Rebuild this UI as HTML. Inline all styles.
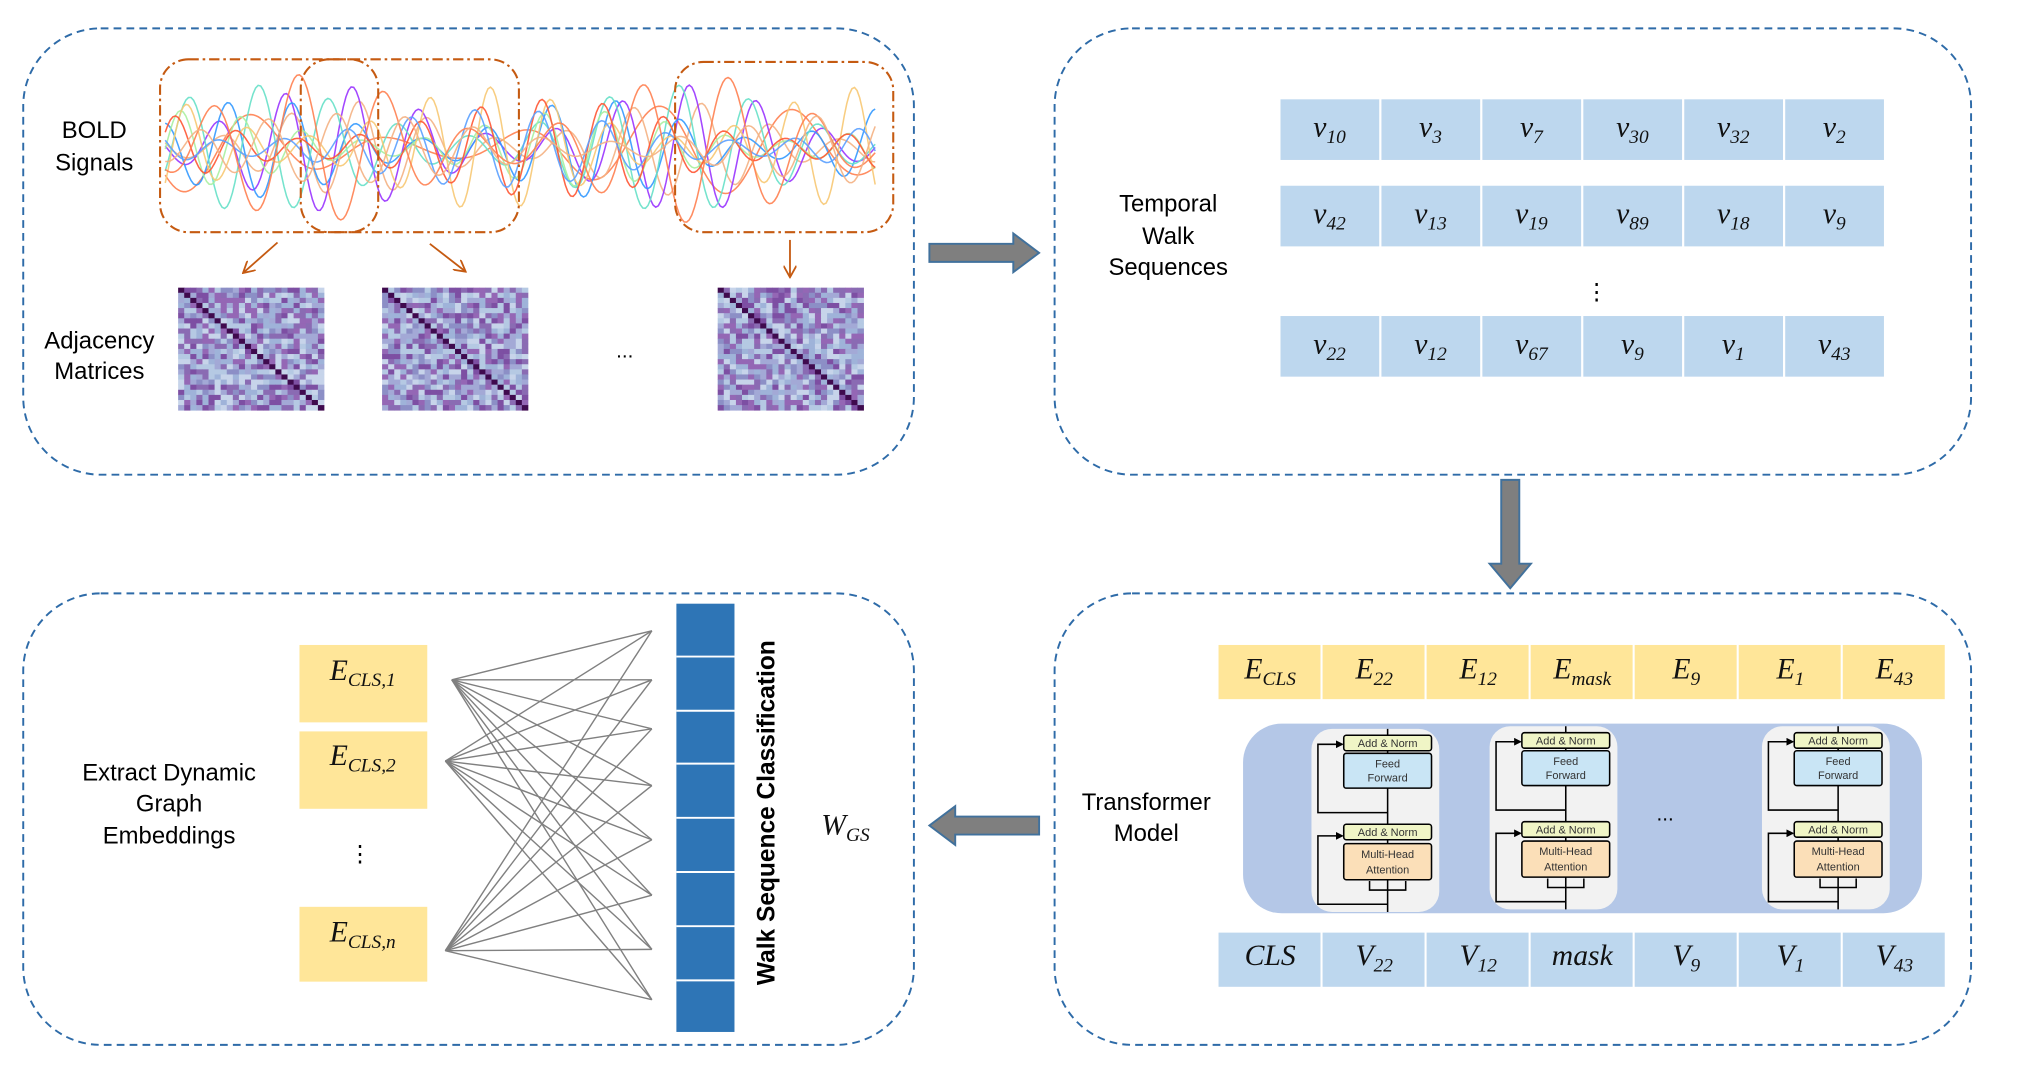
<!DOCTYPE html>
<html><head><meta charset="utf-8">
<style>
html,body{margin:0;padding:0;background:#fff;width:2024px;height:1090px;overflow:hidden}
svg{display:block}
.lab{font-family:"Liberation Sans",sans-serif;font-size:18.5px;fill:#000;text-anchor:middle}
.m{font-family:"Liberation Serif",serif;font-style:italic;font-size:23px;fill:#111;text-anchor:middle}
.sub{font-size:15px}
.tb{font-family:"Liberation Sans",sans-serif;font-size:8.5px;fill:#333;text-anchor:middle}
</style></head><body>
<svg id="s" width="2024" height="1090" viewBox="0 0 1568 845" preserveAspectRatio="none" xmlns="http://www.w3.org/2000/svg">
<defs>
<marker id="oa" markerWidth="10" markerHeight="10" refX="8" refY="5" orient="auto" markerUnits="userSpaceOnUse"><path d="M0,0 L9,5 L0,10" fill="none" stroke="#c55a11" stroke-width="1.4"/></marker>
<marker id="ka" markerWidth="6" markerHeight="6" refX="5" refY="3" orient="auto" markerUnits="userSpaceOnUse"><path d="M0,0 L6,3 L0,6z" fill="#000"/></marker>
</defs>
<g fill="none" stroke="#2e6ba8" stroke-width="1.5" stroke-dasharray="6,4">
<rect x="18" y="22" width="690" height="346" rx="60"/>
<rect x="817" y="22" width="710" height="346" rx="60"/>
<rect x="18" y="460" width="690" height="350" rx="60"/>
<rect x="817" y="460" width="710" height="350" rx="60"/>
</g>
<g fill="#7f7f7f" stroke="#41719c" stroke-width="1.5">
<path d="M720,189 L785,189 L785,181 L805,196 L785,211 L785,203 L720,203z"/>
<path d="M1163,372 L1177,372 L1177,437 L1186,437 L1170,456 L1154,437 L1163,437z"/>
<path d="M805,633 L740,633 L740,625 L720,640 L740,655 L740,647 L805,647z"/>
</g>
<text class="lab" x="73" y="107">BOLD</text><text class="lab" x="73" y="132">Signals</text>
<text class="lab" x="77" y="270">Adjacency</text><text class="lab" x="77" y="294">Matrices</text>
<g id="sig"></g>
<g fill="none" stroke="#c55a11" stroke-width="1.6" stroke-dasharray="8,3,2,3">
<rect x="124" y="46" width="169" height="134" rx="22"/>
<rect x="233" y="46" width="169" height="134" rx="22"/>
<rect x="523" y="48" width="169" height="132" rx="22"/>
</g>
<g stroke="#c55a11" stroke-width="1.4" marker-end="url(#oa)">
<line x1="215" y1="188" x2="189" y2="211"/><line x1="333" y1="189" x2="360" y2="210"/><line x1="612" y1="186" x2="612" y2="214"/>
</g>
<g id="mats"></g>
<text x="484" y="277" style="font-family:'Liberation Sans';font-size:16px;text-anchor:middle">...</text>
<text class="lab" x="905" y="164">Temporal</text><text class="lab" x="905" y="189">Walk</text><text class="lab" x="905" y="213">Sequences</text>
<g id="tr"></g>
<text x="1237" y="232" style="font-family:'Liberation Serif';font-size:18px;text-anchor:middle">⋮</text>
<text class="lab" x="888" y="628">Transformer</text><text class="lab" x="888" y="652">Model</text>
<g id="br"></g>
<rect x="963" y="561" width="526" height="147" rx="30" fill="#b4c7e7"/>
<g id="blocks"></g>
<text x="1290" y="636" style="font-family:'Liberation Sans';font-size:16px;text-anchor:middle">...</text>
<text class="lab" x="131" y="605">Extract Dynamic</text><text class="lab" x="131" y="629">Graph</text><text class="lab" x="131" y="654">Embeddings</text>
<g fill="#ffe699"><rect x="232" y="500" width="99" height="60"/><rect x="232" y="567" width="99" height="60"/><rect x="232" y="703" width="99" height="58"/></g>
<text class="m" x="281" y="527">E<tspan class="sub" dy="5">CLS,1</tspan></text>
<text class="m" x="281" y="593">E<tspan class="sub" dy="5">CLS,2</tspan></text>
<text class="m" x="281" y="730">E<tspan class="sub" dy="5">CLS,n</tspan></text>
<text x="279" y="668" style="font-family:'Liberation Serif';font-size:18px;text-anchor:middle">⋮</text>
<g id="net" stroke="#808080" stroke-width="1.1"></g>
<rect x="524" y="468" width="45" height="332" fill="#2e75b6"/>
<g stroke="#fff" stroke-width="1.5"><line x1="524" y1="509" x2="569" y2="509"/><line x1="524" y1="551" x2="569" y2="551"/><line x1="524" y1="592" x2="569" y2="592"/><line x1="524" y1="634" x2="569" y2="634"/><line x1="524" y1="676" x2="569" y2="676"/><line x1="524" y1="718" x2="569" y2="718"/><line x1="524" y1="760" x2="569" y2="760"/></g>
<text transform="translate(600,630) rotate(-90)" style="font-family:'Liberation Sans';font-weight:bold;font-size:19px;text-anchor:middle">Walk Sequence Classification</text>
<text class="m" x="655" y="647">W<tspan class="sub" dy="5">GS</tspan></text>
</svg>
<script>
var NS="http://www.w3.org/2000/svg";
function el(p,t,a,txt){var e=document.createElementNS(NS,t);for(var k in a)e.setAttribute(k,a[k]);if(txt!=null)e.innerHTML=txt;p.appendChild(e);return e;}
var seed=7;function rnd(){seed=(seed*16807)%2147483647;return seed/2147483647;}
var sg=document.getElementById('sig');
var cols=["#ff7f50","#f4b183","#9933ff","#3399ff","#66e0c8","#a9f0a0","#f7c873","#ff5533","#5aa0ff"];
for(var i=0;i<11;i++){var d="";var f=0.06+rnd()*0.08,ph=rnd()*6,a=25+rnd()*35,f2=0.01+rnd()*0.02;
for(var x=128;x<=678;x+=2){var y=115+a*Math.sin(f*x+ph)*(0.6+0.4*Math.sin(f2*x+i));d+=(x==128?"M":"L")+x+","+y.toFixed(1);}
el(sg,'path',{d:d,fill:'none',stroke:cols[i%cols.length],'stroke-width':1.2,opacity:0.9});}
var mg=document.getElementById('mats');var pal=["#b5c9e3","#9fb3d9","#8c8fc6","#8a6bb3","#7d4fa3","#a3a9d6","#c7d4ea","#9467b5"];
[138,296,556].forEach(function(mx){var n=24,w=113/n,h=95/n;
for(var r=0;r<n;r++)for(var c=0;c<n;c++){var col=r==c?"#3f0a4e":pal[Math.floor(rnd()*pal.length)];
el(mg,'rect',{x:(mx+c*w).toFixed(2),y:(223+r*h).toFixed(2),width:(w+0.3).toFixed(2),height:(h+0.3).toFixed(2),fill:col});}});
var tr=document.getElementById('tr');var rows=[[77,["10","3","7","30","32","2"]],[144,["42","13","19","89","18","9"]],[245,["22","12","67","9","1","43"]]];
rows.forEach(function(r){for(var c=0;c<6;c++){var x=992+c*78.2;el(tr,'rect',{x:x,y:r[0],width:76.5,height:47,fill:"#bdd7ee"});
el(tr,'text',{x:x+38,y:r[0]+29,'class':'m'},'ν<tspan class="sub" dy="5">'+r[1][c]+'</tspan>');}});
var br=document.getElementById('br');var es=["CLS","22","12","mask","9","1","43"];
for(var c=0;c<7;c++){var x=944+c*80.6;el(br,'rect',{x:x,y:500,width:79,height:42,fill:"#ffe699"});
el(br,'text',{x:x+40,y:526,'class':'m'},'E<tspan class="sub" dy="5">'+es[c]+'</tspan>');
el(br,'rect',{x:x,y:723,width:79,height:42,fill:"#bdd7ee"});
el(br,'text',{x:x+40,y:748,'class':'m'},c==0?'CLS':c==3?'mask':'V<tspan class="sub" dy="5">'+es[c]+'</tspan>');}
var bg=document.getElementById('blocks');
[[1016,565],[1154,563],[1365,563]].forEach(function(b){var x=b[0],y=b[1];var g=el(bg,'g',{});
el(g,'rect',{x:x,y:y,width:99,height:142,rx:16,fill:"#f2f2f2"});
var cx=x+59;
el(g,'line',{x1:cx,y1:y,x2:cx,y2:y+142,stroke:"#000","stroke-width":1.2});
el(g,'path',{d:"M"+cx+","+(y+136)+" L"+(x+5)+","+(y+136)+" L"+(x+5)+","+(y+83)+" L"+(x+24)+","+(y+83),fill:"none",stroke:"#000","stroke-width":1.2,"marker-end":"url(#ka)"});
el(g,'path',{d:"M"+cx+","+(y+65)+" L"+(x+5)+","+(y+65)+" L"+(x+5)+","+(y+12)+" L"+(x+24)+","+(y+12),fill:"none",stroke:"#000","stroke-width":1.2,"marker-end":"url(#ka)"});
el(g,'path',{d:"M"+(x+45)+","+(y+118)+" L"+(x+45)+","+(y+125)+" L"+(x+73)+","+(y+125)+" L"+(x+73)+","+(y+118),fill:"none",stroke:"#000","stroke-width":1.2});
el(g,'rect',{x:x+25,y:y+5,width:68,height:12,fill:"#f0f5c6",stroke:"#000","stroke-width":1.2,rx:2});
el(g,'text',{x:cx,y:y+14,'class':'tb'},"Add &amp; Norm");
el(g,'rect',{x:x+25,y:y+19,width:68,height:27,fill:"#c9e5f5",stroke:"#000","stroke-width":1.2,rx:2});
el(g,'text',{x:cx,y:y+30,'class':'tb'},"Feed");el(g,'text',{x:cx,y:y+41,'class':'tb'},"Forward");
el(g,'rect',{x:x+25,y:y+74,width:68,height:12,fill:"#f0f5c6",stroke:"#000","stroke-width":1.2,rx:2});
el(g,'text',{x:cx,y:y+83,'class':'tb'},"Add &amp; Norm");
el(g,'rect',{x:x+25,y:y+89,width:68,height:28,fill:"#fbdfb8",stroke:"#000","stroke-width":1.2,rx:2});
el(g,'text',{x:cx,y:y+100,'class':'tb'},"Multi-Head");el(g,'text',{x:cx,y:y+112,'class':'tb'},"Attention");
});
var net=document.getElementById('net');var L=[[350,527],[345,590],[345,737]];var R=[489,527,565,609,651,694,736,775];
L.forEach(function(p){R.forEach(function(ry){el(net,'line',{x1:p[0],y1:p[1],x2:505,y2:ry});});});
</script>
</body></html>
